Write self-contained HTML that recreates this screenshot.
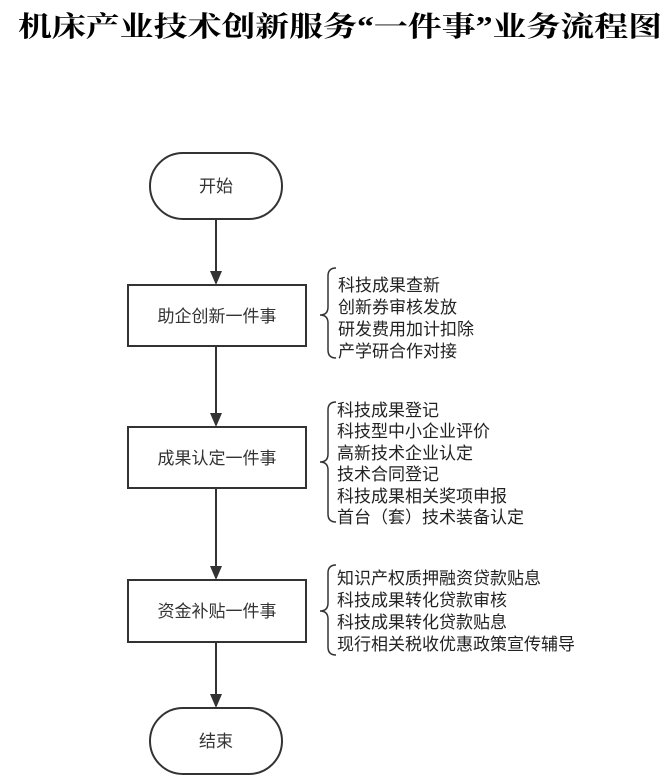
<!DOCTYPE html>
<html><head><meta charset="utf-8"><style>
body{margin:0;background:#fff;width:672px;height:778px;overflow:hidden}
</style></head><body>
<svg width="672" height="778" xmlns="http://www.w3.org/2000/svg">
<text x="18" y="36" textLength="644" lengthAdjust="spacingAndGlyphs" font-family="'Liberation Serif','Noto Serif CJK SC',serif" font-weight="bold" font-size="28" fill="#000">机床产业技术创新服务“一件事”业务流程图</text>
<g stroke="#333" stroke-width="2" fill="#fff">
<rect x="150" y="153" width="132" height="66" rx="33"/>
<rect x="128" y="285" width="178" height="61"/>
<rect x="128" y="427" width="178" height="61"/>
<rect x="128" y="580" width="178" height="62"/>
<rect x="150" y="708" width="132" height="66" rx="33"/>
</g>
<g stroke="#333" stroke-width="2">
<line x1="216" y1="219" x2="216" y2="272"/>
<line x1="216" y1="346" x2="216" y2="414"/>
<line x1="216" y1="488" x2="216" y2="567"/>
<line x1="216" y1="642" x2="216" y2="695"/>
</g>
<g fill="#333">
<polygon points="210,271 222,271 216,285"/>
<polygon points="210,413 222,413 216,427"/>
<polygon points="210,566 222,566 216,580"/>
<polygon points="210,694 222,694 216,708"/>
</g>
<g font-family="'Liberation Sans','Noto Sans CJK SC',sans-serif" font-size="17" fill="#333" text-anchor="middle">
<text x="216" y="192">开始</text>
<text x="217" y="322">助企创新一件事</text>
<text x="217" y="464">成果认定一件事</text>
<text x="217" y="617">资金补贴一件事</text>
<text x="216" y="747">结束</text>
</g>
<g stroke="#333" stroke-width="1.5" fill="none">
<path d="M336,268 Q328,268 328,276 L328,307 Q328,315 320,315 Q328,315 328,323 L328,350 Q328,358 336,358"/>
<path d="M336,402 Q328,402 328,410 L328,454 Q328,462 320,462 Q328,462 328,470 L328,514 Q328,522 336,522"/>
<path d="M336,565 Q328,565 328,573 L328,603 Q328,611 320,611 Q328,611 328,619 L328,647 Q328,655 336,655"/>
</g>
<g font-family="'Liberation Sans','Noto Sans CJK SC',sans-serif" font-size="17" fill="#222">
<text x="338" y="291">科技成果查新</text>
<text x="338" y="313">创新券审核发放</text>
<text x="338" y="335">研发费用加计扣除</text>
<text x="338" y="357">产学研合作对接</text>
<text x="337" y="416">科技成果登记</text>
<text x="337" y="437">科技型中小企业评价</text>
<text x="337" y="459">高新技术企业认定</text>
<text x="337" y="480">技术合同登记</text>
<text x="337" y="502">科技成果相关奖项申报</text>
<text x="337" y="523">首台（套）技术装备认定</text>
<text x="337" y="584">知识产权质押融资贷款贴息</text>
<text x="337" y="606">科技成果转化贷款审核</text>
<text x="337" y="628">科技成果转化贷款贴息</text>
<text x="337" y="650">现行相关税收优惠政策宣传辅导</text>
</g>
</svg>
</body></html>
